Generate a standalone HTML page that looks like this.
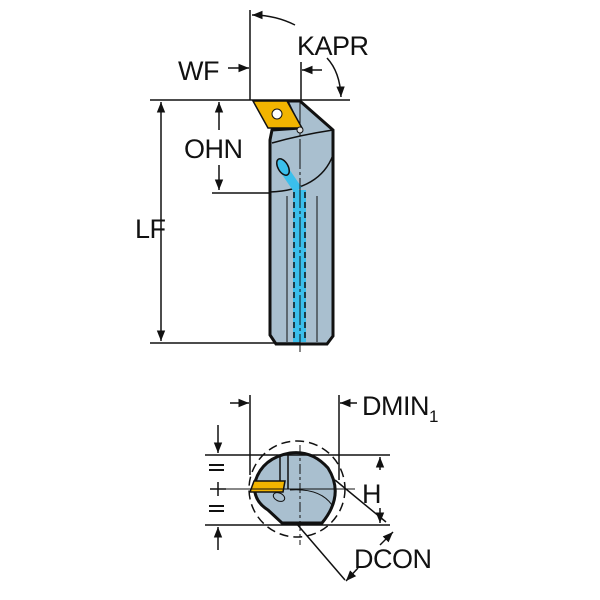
<!DOCTYPE html>
<html><head><style>body{margin:0;background:#fff}svg{display:block}text{font-family:"Liberation Sans",Arial,sans-serif;fill:#111}</style></head><body>
<svg width="600" height="600" viewBox="0 0 600 600" xmlns="http://www.w3.org/2000/svg">
<defs><marker id="a" viewBox="0 0 10 10" refX="10" refY="5" markerWidth="7" markerHeight="7" orient="auto-start-reverse"><path d="M0,1L10,5L0,9z" fill="#111"/></marker></defs>
<g stroke="#111" stroke-width="1.5" fill="none">
<path d="M270,140 L270,335 L276,344 L327,344 L333,336 L333,130 L300,101 L287,101 L300,128 L272,130 Z" fill="#a9bfcf" stroke-width="3"/>
<path d="M272,143 Q300,135 333,130" stroke-width="1.5"/>
<path d="M270,192 Q320,190 333,155" stroke-width="1.5"/>
<line x1="287" y1="196" x2="287" y2="342" stroke-width="1"/>
<line x1="317" y1="196" x2="317" y2="342" stroke-width="1"/>
<rect x="293" y="190" width="13" height="152" fill="#3bbfec" stroke="none"/>
<path d="M283,168 L298,190" stroke="#3bbfec" stroke-width="9"/>
<ellipse cx="283" cy="167" rx="5" ry="9" transform="rotate(-30 283 167)" fill="#3bbfec" stroke-width="1.5"/>
<line x1="294" y1="192" x2="294" y2="340" stroke-dasharray="6,4"/>
<line x1="305" y1="192" x2="305" y2="340" stroke-dasharray="6,4"/>
<line x1="300" y1="100" x2="300" y2="352" stroke-width="1" stroke-dasharray="30,3,3,3"/>
<path d="M253,101 L287,101 L302,128 L268,128 Z" fill="#f2b400" stroke-width="1.5"/>
<circle cx="277" cy="114" r="5" fill="#fff" stroke-width="1"/>
<circle cx="300" cy="130" r="3" fill="#ddd" stroke-width="1"/>
<line x1="150" y1="100" x2="350" y2="100"/>
<line x1="150" y1="343" x2="300" y2="343"/>
<line x1="161" y1="102" x2="161" y2="341" marker-start="url(#a)" marker-end="url(#a)"/>
<line x1="219" y1="130" x2="219" y2="102" marker-end="url(#a)"/>
<line x1="219" y1="165" x2="219" y2="190" marker-end="url(#a)"/>
<line x1="212" y1="193" x2="270" y2="193"/>
<line x1="250" y1="10" x2="250" y2="100"/>
<line x1="228" y1="68" x2="249" y2="68" marker-end="url(#a)"/>
<line x1="301" y1="62" x2="301" y2="100"/>
<line x1="322" y1="70" x2="302" y2="70" marker-end="url(#a)"/>
<path d="M295,25 Q275,15 252,15" marker-end="url(#a)"/>
<path d="M327,58 Q340,72 341,97" marker-end="url(#a)"/>
<!-- bottom view -->
<circle cx="297" cy="489" r="48" stroke-dasharray="9,5"/>
<path d="M282,523 L322,523 Q345,495 328,468 Q312,450 290,453 Q262,458 255,482 Q252,500 268,510 Z" fill="#a9bfcf" stroke-width="3"/>
<line x1="280" y1="455" x2="280" y2="489"/>
<line x1="288" y1="454" x2="288" y2="489"/>
<line x1="300" y1="445" x2="300" y2="545" stroke-width="1" stroke-dasharray="10,3,3,3"/>
<path d="M290,490 Q320,488 332,505" stroke-width="1"/>
<ellipse cx="279" cy="497" rx="6" ry="4" transform="rotate(25 279 497)" stroke-width="1"/>
<path d="M254,481 L285,481 L283,492 L250,492 Z" fill="#f2b400"/>
<line x1="205" y1="455" x2="390" y2="455"/>
<line x1="205" y1="525" x2="390" y2="525"/>
<line x1="210" y1="489" x2="355" y2="489" stroke-width="1"/>
<line x1="380" y1="470" x2="380" y2="457" marker-end="url(#a)"/>
<line x1="380" y1="508" x2="380" y2="523" marker-end="url(#a)"/>
<line x1="250" y1="395" x2="250" y2="475"/>
<line x1="339" y1="395" x2="339" y2="480"/>
<line x1="230" y1="403" x2="249" y2="403" marker-end="url(#a)"/>
<line x1="357" y1="403" x2="340" y2="403" marker-end="url(#a)"/>
<line x1="218" y1="425" x2="218" y2="453" marker-end="url(#a)"/>
<line x1="218" y1="550" x2="218" y2="527" marker-end="url(#a)"/>
<line x1="210" y1="489" x2="226" y2="489"/>
<line x1="218" y1="482" x2="218" y2="496"/>
<line x1="335" y1="480" x2="386" y2="522"/>
<line x1="296" y1="523" x2="345" y2="580"/>
<line x1="393" y1="532" x2="380" y2="545" marker-start="url(#a)"/>
<line x1="346" y1="581" x2="358" y2="568" marker-start="url(#a)"/>
</g>
<g stroke="#111" stroke-width="2">
<line x1="209" y1="465" x2="224" y2="465"/><line x1="209" y1="470" x2="224" y2="470"/>
<line x1="209" y1="506" x2="224" y2="506"/><line x1="209" y1="511" x2="224" y2="511"/>
</g>
<g font-size="27" style="letter-spacing:-0.5px">
<text x="178" y="80">WF</text>
<text x="297" y="55">KAPR</text>
<text x="184" y="158">OHN</text>
<text x="135" y="238">LF</text>
<text x="362" y="415">DMIN<tspan font-size="17" dy="7">1</tspan></text>
<text x="362" y="503">H</text>
<text x="354" y="568">DCON</text>
</g>
</svg>
</body></html>
